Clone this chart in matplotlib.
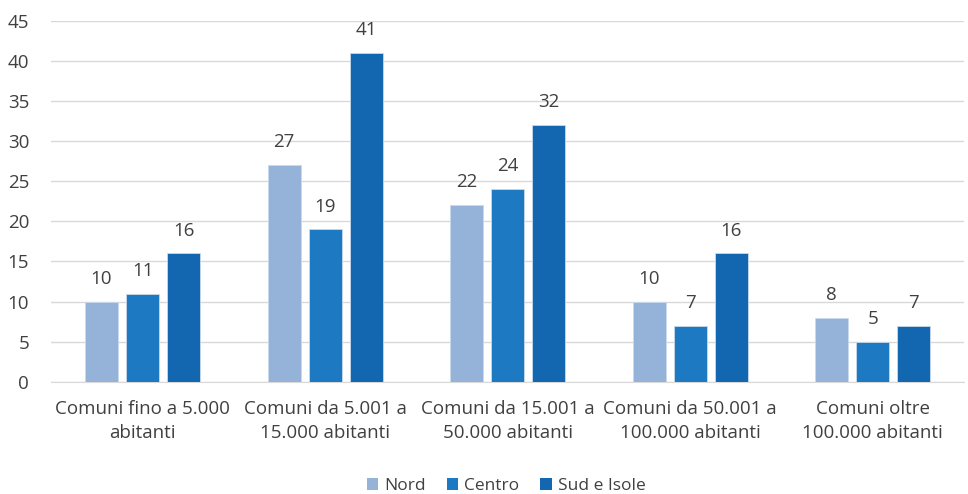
import numpy as np
import matplotlib.pyplot as plt
from matplotlib.patches import Patch

categories = ["Comuni fino a 5.000\nabitanti",
              "Comuni da 5.001 a\n15.000 abitanti",
              "Comuni da 15.001 a\n50.000 abitanti",
              "Comuni da 50.001 a\n100.000 abitanti",
              "Comuni oltre\n100.000 abitanti"]
series_names = ["Nord", "Centro", "Sud e Isole"]
nord = [10, 27, 22, 10, 8]
centro = [11, 19, 24, 7, 5]
sud = [16, 41, 32, 16, 7]
colors = ["#95B3D9", "#1E79C3", "#1367B1"]

plt.rcParams['font.family'] = ['Open Sans', 'DejaVu Sans']
text_color = "#404040"

fig = plt.figure(figsize=(9.68, 4.94), dpi=100)
ax = fig.add_axes([0.053, 0.227, 0.943, 0.731])

x = np.arange(len(categories))
width = 0.18
step = 0.225
for i, (vals, name) in enumerate(zip([nord, centro, sud], series_names)):
    bars = ax.bar(x + (i - 1) * step, vals, width, color=colors[i],
                  edgecolor="#C9DAEE", linewidth=0.6, label=name, zorder=3)
    for b, v in zip(bars, vals):
        ax.annotate(str(v), (b.get_x() + b.get_width() / 2, v),
                    xytext=(0, 10), textcoords="offset points",
                    ha="center", va="bottom", fontsize=13.5, color=text_color)

ax.set_xlim(-0.5, len(categories) - 0.5)
ax.set_ylim(0, 45)
ax.set_yticks(range(0, 46, 5))
ax.set_xticks(x)
ax.set_xticklabels(categories, fontsize=13.5, color=text_color, linespacing=1.45)
ax.tick_params(axis='y', labelsize=13.5, colors=text_color, length=0, pad=16)
ax.tick_params(axis='x', length=0, pad=13)
ax.grid(axis='y', color="#D9D9D9", linewidth=1, zorder=0)
for s in ["top", "right", "left"]:
    ax.spines[s].set_visible(False)
ax.spines["bottom"].set_color("#D9D9D9")

handles = [Patch(facecolor=c, label=n) for c, n in zip(colors, series_names)]
fig.legend(handles=handles, loc="center", bbox_to_anchor=(0.523, 0.016),
           ncol=3, frameon=False, fontsize=12.5, labelcolor=text_color,
           handlelength=0.65, handleheight=0.65, handletextpad=0.35, columnspacing=1.2)

fig.savefig("out.png", dpi=100)
